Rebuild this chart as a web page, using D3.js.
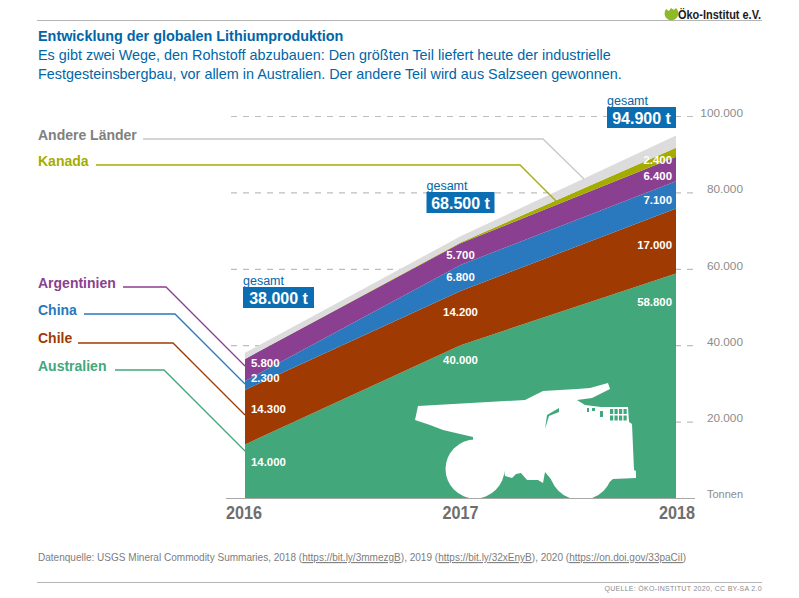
<!DOCTYPE html>
<html lang="de">
<head>
<meta charset="utf-8">
<title>Entwicklung der globalen Lithiumproduktion</title>
<script src="https://cdn.jsdelivr.net/npm/d3@7"></script>
<style>
  html, body { margin: 0; padding: 0; background: #fff; }
  svg { display: block; font-family: "Liberation Sans", Arial, sans-serif; }
  .tick line { stroke: #bdbdbd; stroke-width: 1.2; stroke-dasharray: 6 6; }
  .tick text { fill: #8c8c8c; font-size: 11.8px; }
  .wert { fill: #fff; font-size: 11.4px; font-weight: bold; }
</style>
</head>
<body>
<svg id="chart" width="799" height="598"></svg>
<script>
const years = [2016, 2017, 2018]
const laender = ['Australien', 'Chile', 'China', 'Argentinien', 'Kanada', 'Andere Länder']
const australien = [14000, 40000, 58800]
const chile = [14300, 14200, 17000]
const china = [2300, 6800, 7100]
const argentinien = [5800, 5700, 6400]
const kanada = [0, 200, 2400]
const andere = [1600, 1600, 3200]
const gesamt = [38000, 68500, 94900]
const yTicks = [20000, 40000, 60000, 80000, 100000]

const farben = ['#43a77c', '#9f3b02', '#2a78bd', '#8a3f90', '#a5ac00', '#dcdcdc']
const textFarben = ['#43a77c', '#9f3b02', '#2a78bd', '#8a3f90', '#a5ac00', '#808080']

const de = d3.formatLocale({ decimal: ',', thousands: '.', grouping: [3], currency: ['', ' €'] })
const fmt = de.format(',d')

const svg = d3.select('#chart')
const x = d3.scalePoint().domain(years).range([245, 676])
const y = d3.scaleLinear().domain([0, 100000]).range([498, 116])

// header
svg.append('line').attr('x1', 37).attr('x2', 762).attr('y1', 20.5).attr('y2', 20.5).attr('stroke', '#b5b5b5').attr('stroke-width', 1.2)
svg.append('text').attr('x', 38).attr('y', 41).attr('fill', '#0066a8').attr('font-weight', 'bold').attr('font-size', 14.4)
    .text('Entwicklung der globalen Lithiumproduktion')
const intro = ['Es gibt zwei Wege, den Rohstoff abzubauen: Den größten Teil liefert heute der industrielle',
    'Festgesteinsbergbau, vor allem in Australien. Der andere Teil wird aus Salzseen gewonnen.']
intro.forEach((t, i) => {
    svg.append('text').attr('x', 38).attr('y', 60 + i * 19).attr('fill', '#0066a8').attr('font-size', 14.4).text(t)
})

// logo
svg.append('path').attr('fill', '#8dbb25')
    .attr('d', 'M666 9 L669 11 L671 8 L674 10 L676 8 A7 7 0 1 1 666 9 Z')
svg.append('text').attr('x', 678).attr('y', 18.5).attr('fill', '#1c1c1c').attr('font-weight', 'bold').attr('font-size', 13.5)
    .attr('textLength', 83).attr('lengthAdjust', 'spacingAndGlyphs').text('Öko-Institut e.V.')

// y axis, the dashes run behind the areas
const yAxis = d3.axisLeft(y).tickValues(yTicks).tickSize(467).tickFormat(fmt)
const axisG = svg.append('g').attr('transform', 'translate(693,0)').call(yAxis)
axisG.select('.domain').remove()
axisG.selectAll('.tick line').attr('x2', d => d === 20000 ? -448 : -467)
axisG.selectAll('.tick text').attr('x', 50).attr('text-anchor', 'end').attr('dy', '0.32em')
    .attr('transform', 'translate(0,-3.5)').attr('font-family', null)

// stacked areas
const rows = years.map((yr, i) => ({
    year: yr, Australien: australien[i], Chile: chile[i], China: china[i],
    Argentinien: argentinien[i], Kanada: kanada[i], 'Andere Länder': andere[i]
}))
const series = d3.stack().keys(laender)(rows)
const area = d3.area().x(d => x(d.data.year)).y0(d => y(d[0])).y1(d => y(d[1]))
svg.append('g').selectAll('path').data(series).enter().append('path')
    .attr('fill', (d, i) => farben[i])
    .attr('d', area)

// baseline
svg.append('line').attr('x1', 226).attr('x2', 695).attr('y1', y(0) + .5).attr('y2', y(0) + .5).attr('stroke', '#a8a8a8').attr('stroke-width', 1.2)

// truck silhouette
svg.append('clipPath').attr('id', 'unten').append('rect').attr('x', 400).attr('y', 380).attr('width', 300).attr('height', 118)
const truck = svg.append('g').attr('fill', '#fff')
truck.append('path').attr('d', 'M418 406 L525 400 L543 391 L577 389 L590 388 L608 383 L610 389 L600 394 L592 398 L577 400 L585 405 L601 407 L628 407 L629 422 L632 424 L634 470 L636 471 L636 478 L613 479 L600 490 L560 490 L550 478 L545 472 L543 483 L538 480 L527 480 L521 473 L516 474 L512 478 L505 476 L503 465 L490 450 L473 442 L473 437 L443 430 L430 425 L415 420 Z')
truck.append('circle').attr('cx', 475).attr('cy', 469).attr('r', 29.5).attr('clip-path', 'url(#unten)')
truck.append('circle').attr('cx', 581).attr('cy', 468).attr('r', 32).attr('clip-path', 'url(#unten)')
svg.append('path').attr('fill', '#43a77c').attr('d', 'M545 429 L547 415 L559 408 L559 412 L549 416 Z')
// grille behind the cab, small cells between the white bars
const grille = svg.append('g').attr('fill', '#43a77c')
d3.range(0, 4).forEach(c => {
    d3.range(0, 2).forEach(r => {
        grille.append('rect').attr('x', 610 + c * 4.5).attr('y', 409 + r * 6.5).attr('width', 3.2).attr('height', 5)
    })
})
grille.append('rect').attr('x', 587).attr('y', 408).attr('width', 2).attr('height', 4)
grille.append('rect').attr('x', 592).attr('y', 408).attr('width', 3).attr('height', 3)
grille.append('rect').attr('x', 600).attr('y', 411).attr('width', 3).attr('height', 6)

// value labels, offset in px from the top of each band
const labelOffsets = [[17.5, 15, 29], [19, 21, 36], [-3, 12, 19], [4, 12, 19], [0, 0, 12]]
const labelAnchor = ['start', 'middle', 'end']
const labelDx = [6, 0, -4]
series.slice(0, 5).forEach((s, k) => {
    s.forEach((d, i) => {
        const wert = d[1] - d[0]
        if (k === 4 && i < 2) return
        svg.append('text').attr('class', 'wert')
            .attr('x', x(years[i]) + labelDx[i]).attr('y', y(d[1]) + labelOffsets[k][i])
            .attr('dy', '0.36em').attr('text-anchor', labelAnchor[i])
            .text(fmt(wert))
    })
})

// year labels
svg.append('g').selectAll('text').data(years).enter().append('text')
    .attr('transform', d => `translate(${x(d) - (d === 2016 ? 1 : 0) + (d === 2018 ? 1 : 0)},519) scale(.9,1)`)
    .attr('text-anchor', 'middle')
    .attr('fill', '#6e6e6e').attr('font-weight', 'bold').attr('font-size', 18)
    .text(d => d)
svg.append('text').attr('x', 743).attr('y', 498).attr('text-anchor', 'end').attr('fill', '#8c8c8c').attr('font-size', 11).text('Tonnen')

// totals
const boxLeft = [-2, -34, -69]
const boxTop = [287, 192, 107]
const boxWidth = [71, 68, 69]
gesamt.forEach((g, i) => {
    const bx = x(years[i]) + boxLeft[i]
    svg.append('text').attr('x', bx).attr('y', boxTop[i] - 2.5).attr('fill', '#0066a8').attr('font-size', 12.5).text('gesamt')
    svg.append('rect').attr('x', bx).attr('y', boxTop[i]).attr('width', boxWidth[i]).attr('height', 21).attr('fill', '#0b6eb3')
    svg.append('text').attr('x', bx + boxWidth[i] / 2).attr('y', boxTop[i] + 16.5).attr('text-anchor', 'middle')
        .attr('fill', '#fff').attr('font-weight', 'bold').attr('font-size', 16).text(fmt(g) + ' t')
})

// country labels and leader lines
const labelPos = [[38, 371], [38, 343], [38, 315], [38, 288], [38, 166], [38, 140]]
const leaders = [
    [[115, 370], [164, 370], [245, 451]],
    [[78, 343], [173, 343], [245, 415]],
    [[84, 314], [175, 314], [245, 384]],
    [[123, 287], [166, 287], [245, 366]],
    [[96, 165], [520, 165], [556, 201]],
    [[143, 139], [543, 139], [584, 179]]
]
const leaderLine = d3.line()
laender.forEach((name, i) => {
    svg.append('text').attr('x', labelPos[i][0]).attr('y', labelPos[i][1]).attr('fill', textFarben[i])
        .attr('font-weight', 'bold').attr('font-size', 14).text(name)
    svg.append('path').attr('d', leaderLine(leaders[i])).attr('fill', 'none')
        .attr('stroke', i === 5 ? '#c8c8c8' : farben[i]).attr('stroke-width', 1.3)
})

// footer
const quelle = svg.append('text').attr('transform', 'translate(38,561) scale(.913,1)').attr('fill', '#7d7d7d').attr('font-size', 11)
quelle.append('tspan').text('Datenquelle:  USGS Mineral Commodity Summaries, 2018 (')
quelle.append('tspan').attr('text-decoration', 'underline').text('https://bit.ly/3mmezgB')
quelle.append('tspan').text('), 2019 (')
quelle.append('tspan').attr('text-decoration', 'underline').text('https://bit.ly/32xEnyB')
quelle.append('tspan').text('), 2020 (')
quelle.append('tspan').attr('text-decoration', 'underline').text('https://on.doi.gov/33paCiI')
quelle.append('tspan').text(')')
svg.append('line').attr('x1', 37).attr('x2', 762).attr('y1', 582.5).attr('y2', 582.5).attr('stroke', '#b5b5b5').attr('stroke-width', 1.2)
svg.append('text').attr('x', 762).attr('y', 591).attr('text-anchor', 'end').attr('fill', '#8c8c8c').attr('font-size', 7)
    .attr('letter-spacing', '0.3').text('QUELLE: ÖKO-INSTITUT 2020, CC BY-SA 2.0')
</script>
</body>
</html>
